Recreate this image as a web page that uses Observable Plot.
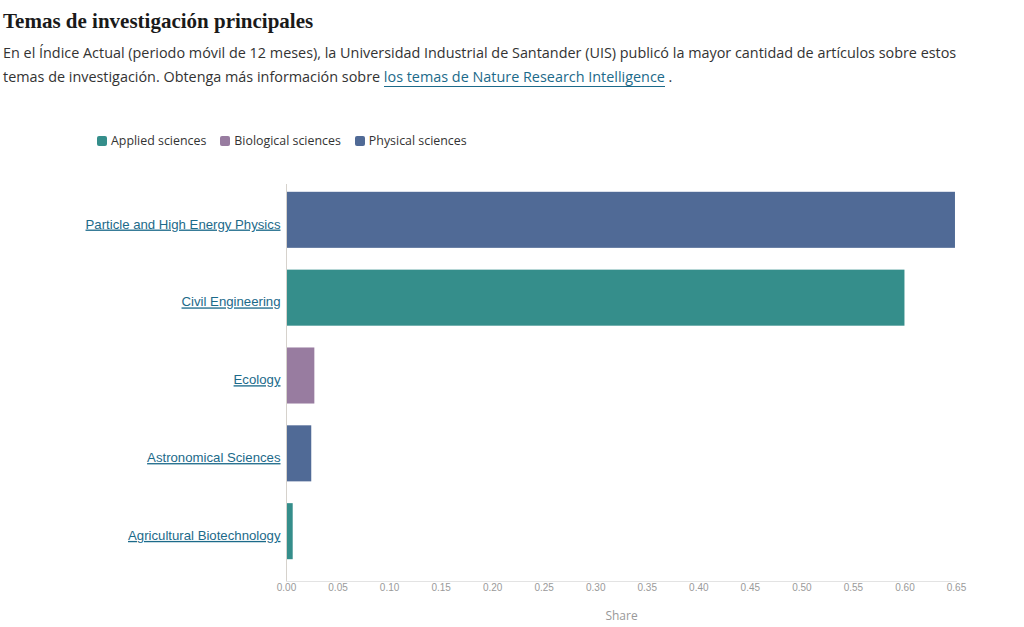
<!DOCTYPE html>
<html>
<head>
<meta charset="utf-8">
<script src="https://cdn.jsdelivr.net/npm/d3@7"></script>
<script src="https://cdn.jsdelivr.net/npm/@observablehq/plot@0.6"></script>
<style>
  html, body { margin: 0; padding: 0; background: #fff; }
  body { width: 1024px; height: 627px; overflow: hidden; position: relative; }
  #title {
    position: absolute; left: 3px; top: 9px;
    font-family: "Liberation Serif", "DejaVu Serif", serif;
    font-weight: bold; font-size: 21px; color: #1a1a1a;
  }
  #subtitle {
    position: absolute; left: 3px; top: 41px; margin: 0;
    font-family: "Open Sans", "Noto Sans", sans-serif;
    font-size: 14.4px; line-height: 24px; color: #333;
  }
  #subtitle a { color: #1c6a8a; text-decoration: none; border-bottom: 1px solid #1c6a8a; }
  #legend {
    position: absolute; left: 97px; top: 132px; display: flex; gap: 14px;
    font-family: "Open Sans", "Noto Sans", sans-serif; font-size: 12.4px; color: #333;
  }
  #legend .item { display: flex; align-items: center; }
  #legend .sw { width: 10px; height: 10px; border-radius: 2px; margin-right: 4px; }
  #chart { position: absolute; left: 0; top: 160px; }
  #chart [aria-label="y-axis tick label"] text { text-decoration: underline; }
</style>
</head>
<body>
<div id="title">Temas de investigación principales</div>
<p id="subtitle">En el Índice Actual (periodo móvil de 12 meses), la Universidad Industrial de Santander (UIS) publicó la mayor cantidad de artículos sobre estos<br>temas de investigación. Obtenga más información sobre <a>los temas de Nature Research Intelligence</a> .</p>
<div id="legend"></div>
<div id="chart"></div>
<script>
// Research topics, their subject field, and share of output
const topics = [
  "Particle and High Energy Physics",
  "Civil Engineering",
  "Ecology",
  "Astronomical Sciences",
  "Agricultural Biotechnology"
];
const fields = [
  "Physical sciences",
  "Applied sciences",
  "Biological sciences",
  "Physical sciences",
  "Applied sciences"
];
const shares = [0.649, 0.600, 0.0275, 0.0245, 0.0065];

const fieldNames = ["Applied sciences", "Biological sciences", "Physical sciences"];
const fieldColors = ["#358e8b", "#987ca0", "#506a96"];
const xTicks = [0, 0.05, 0.1, 0.15, 0.2, 0.25, 0.3, 0.35, 0.4, 0.45, 0.5, 0.55, 0.6, 0.65];

const rows = topics.map((t, i) => ({topic: t, field: fields[i], share: shares[i]}));

// Legend
const legend = document.getElementById("legend");
fieldNames.forEach((name, i) => {
  const item = document.createElement("div");
  item.className = "item";
  item.innerHTML = `<span class="sw" style="background:${fieldColors[i]}"></span><span>${name}</span>`;
  legend.appendChild(item);
});

const chart = Plot.plot({
  width: 1024,
  height: 467,
  marginLeft: 286,
  marginRight: 68,
  marginTop: 10,
  marginBottom: 46,
  style: {background: "transparent", overflow: "visible"},
  x: {domain: [0, 0.65], ticks: xTicks, tickFormat: d3.format(".2f"), label: null},
  y: {domain: topics, padding: 0.28, round: false, label: null},
  color: {domain: fieldNames, range: fieldColors},
  marks: [
    Plot.barX(rows, {x: "share", y: "topic", fill: "field"}),
    Plot.ruleX([0], {stroke: "#d6d2cc", insetTop: 14}),
    Plot.frame({anchor: "bottom", stroke: "#e3e3e3"}),
    Plot.axisX({
      ticks: xTicks, tickFormat: d3.format(".2f"), tickSize: 0, tickPadding: 2,
      fontSize: 10, fill: "#9a9a9a", fontFamily: "Liberation Sans, Arial, sans-serif",
      label: null
    }),
    Plot.text(["Share"], {
      frameAnchor: "bottom", dy: 38, fill: "#999", fontSize: 12,
      fontFamily: "Open Sans, sans-serif"
    }),
    Plot.axisY({
      tickSize: 0, tickPadding: 6, dy: 4, fontSize: 13.2, fill: "#1c6a8a",
      fontFamily: "Liberation Sans, Arial, sans-serif", label: null
    })
  ]
});
document.getElementById("chart").appendChild(chart);
</script>
</body>
</html>
